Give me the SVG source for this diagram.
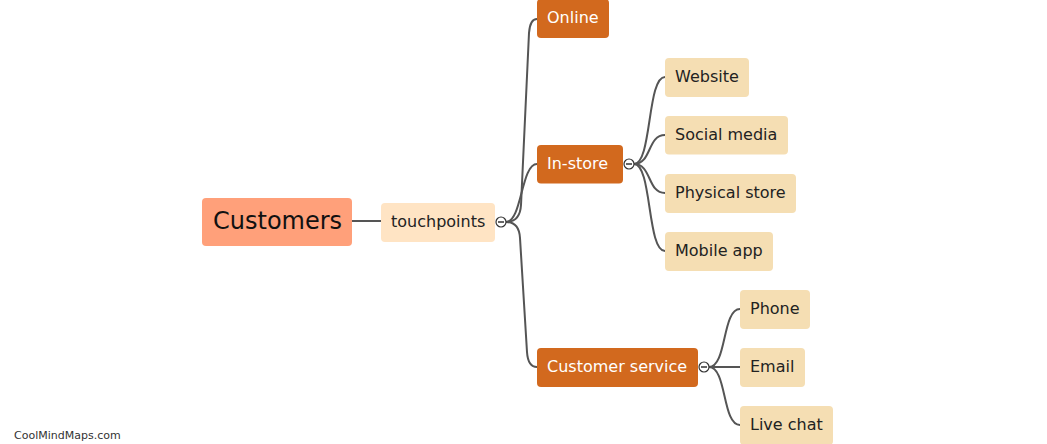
<svg xmlns="http://www.w3.org/2000/svg" width="1047" height="444" viewBox="0 0 1047 444">
<style>
text{font-family:"DejaVu Sans",Verdana,sans-serif;font-size:16px;fill:#222}
.root rect{fill:#FFA07A}
.root text{font-size:24px;fill:#111}
.l1 rect{fill:#FFE4C4}
.l2 rect{fill:#D2691E}
.l2 text{fill:#fff}
.l3 rect{fill:#F5DEB3}
.links path{fill:none;stroke:#555;stroke-width:2}
.tog circle{fill:#fff;stroke:#333;stroke-width:1.2}
.tog line{stroke:#333;stroke-width:1.5}
.wm{font-size:11px;fill:#333}
</style>
<rect width="1047" height="444" fill="#fff"/>
<g class="links" id="connectors">
<path d="M352,221 L381,221"/>
<path d="M506,222 Q520,222 521,205 L529,33 Q530,19 537,19"/>
<path d="M506,222 C522,222 521,164 537,164"/>
<path d="M506,222 Q519,222 520,238 L527,352 Q528,367 537,367"/>
<path d="M634,164 C652,164 647,77 665,77"/>
<path d="M634,164 C652,164 647,135 665,135"/>
<path d="M634,164 C652,164 647,193 665,193"/>
<path d="M634,164 C652,164 647,251 665,251"/>
<path d="M709,367 C727,367 722,309 740,309"/>
<path d="M709,367 L740,367"/>
<path d="M709,367 C727,367 722,425 740,425"/>
</g>
<g id="customers" class="root"><rect x="202" y="198" width="150" height="48" rx="4"/><text x="213" y="229">Customers</text></g>
<g id="touchpoints" class="l1"><rect x="381" y="203" width="114" height="39" rx="4"/><text x="391" y="227">touchpoints</text></g>
<g id="online" class="l2"><rect x="537" y="-1" width="72" height="39" rx="4"/><text x="547" y="23">Online</text></g>
<g id="in-store" class="l2"><rect x="537" y="145" width="86" height="38.5" rx="4"/><text x="547" y="169">In-store</text></g>
<g id="customer-service" class="l2"><rect x="537" y="348" width="161" height="39" rx="4"/><text x="547" y="372">Customer service</text></g>
<g id="website" class="l3"><rect x="665" y="58" width="84" height="39" rx="4"/><text x="675" y="82">Website</text></g>
<g id="social-media" class="l3"><rect x="665" y="116" width="123" height="38.5" rx="4"/><text x="675" y="140">Social media</text></g>
<g id="physical-store" class="l3"><rect x="665" y="174" width="131" height="39" rx="4"/><text x="675" y="198">Physical store</text></g>
<g id="mobile-app" class="l3"><rect x="665" y="232" width="108" height="39" rx="4"/><text x="675" y="256">Mobile app</text></g>
<g id="phone" class="l3"><rect x="740" y="290" width="70" height="39" rx="4"/><text x="750" y="314">Phone</text></g>
<g id="email" class="l3"><rect x="740" y="348" width="65" height="39" rx="4"/><text x="750" y="372">Email</text></g>
<g id="live-chat" class="l3"><rect x="740" y="406" width="93" height="39" rx="4"/><text x="750" y="430">Live chat</text></g>
<g class="tog" id="toggles">
<g><circle cx="501" cy="222" r="5"/><line x1="498" y1="222" x2="504" y2="222"/></g>
<g><circle cx="629" cy="164" r="5"/><line x1="626" y1="164" x2="632" y2="164"/></g>
<g><circle cx="704" cy="367" r="5"/><line x1="701" y1="367" x2="707" y2="367"/></g>
</g>
<text class="wm" x="14" y="439">CoolMindMaps.com</text>
</svg>
